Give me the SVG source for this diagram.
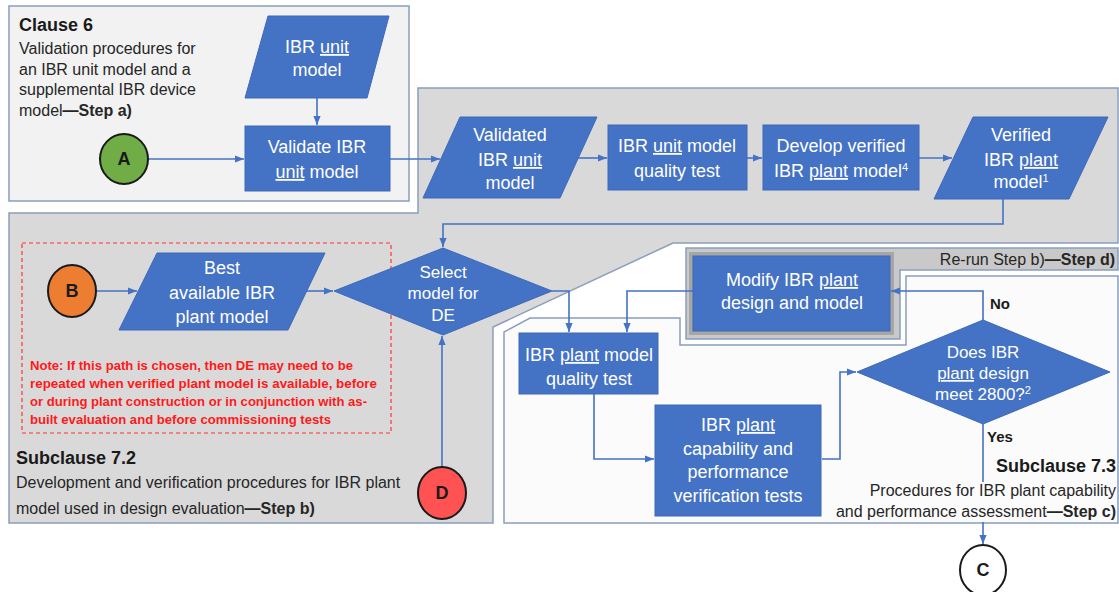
<svg xmlns="http://www.w3.org/2000/svg" width="1119" height="592" viewBox="0 0 1119 592">
<defs>
<marker id="arr" viewBox="0 0 10 10" refX="10" refY="5" markerWidth="9" markerHeight="9" markerUnits="userSpaceOnUse" orient="auto"><path d="M0,1 L10,5 L0,9 z" fill="#4472c4"/></marker>
</defs>
<style>
text{font-family:"Liberation Sans",Arial,sans-serif}
.frame{stroke:#8a9dbd;stroke-width:1.5}
.blue{fill:#4472c4;stroke:#3d69ba;stroke-width:1}
.bt{font-size:18px;fill:#ffffff;text-anchor:middle}
.st{font-size:17px;fill:#ffffff;text-anchor:middle}
.sup{font-size:11px;baseline-shift:super}
.con{fill:none;stroke:#4472c4;stroke-width:1.6}
.conA{fill:none;stroke:#4472c4;stroke-width:1.6;marker-end:url(#arr)}
.u{text-decoration:underline}
.desc{font-size:16px;fill:#262626}
.title{font-size:18px;font-weight:bold;fill:#1a1a1a}
.circ{stroke:#1a1a1a;stroke-width:2}
.ct{font-size:18px;font-weight:bold;fill:#1a1a1a;text-anchor:middle}
.note{font-size:12.5px;font-weight:bold;fill:#ff1a1a}
.lbl{font-size:15px;font-weight:bold;fill:#1a1a1a}
</style>
<rect x="0" y="0" width="1119" height="592" fill="#ffffff"/>

<g id="regions">
  <rect x="9" y="6" width="400" height="195" fill="#f2f2f2" class="frame"/>
  <polygon points="9,213 418,213 418,88 1118,88 1118,243 673,243 493,327 493,523 9,523" fill="#d9d9d9" class="frame"/>
  <polygon points="504,523 504,332 530,318 680,318 680,345 906,345 906,276 1118,276 1118,523" fill="#fbfbfb" class="frame"/>
  <polygon points="686,248 1118,248 1118,270 900,270 900,339 686,339" fill="#c9c9c9" class="frame"/>
  <rect x="689" y="252" width="205" height="83" fill="#a6a6a6"/>
  <rect x="22" y="243" width="369" height="190" fill="none" stroke="#ff3333" stroke-width="1.2" stroke-dasharray="4,3"/>
</g>

<g id="region-texts">
  <text x="19" y="31" class="title">Clause 6</text>
  <text x="19" y="54" class="desc">Validation procedures for</text>
  <text x="19" y="75" class="desc">an IBR unit model and a</text>
  <text x="19" y="95" class="desc">supplemental IBR device</text>
  <text x="19" y="116" class="desc">model<tspan font-weight="bold">—Step a)</tspan></text>

  <text x="16" y="464" class="title">Subclause 7.2</text>
  <text x="16" y="488" class="desc">Development and verification procedures for IBR plant</text>
  <text x="16" y="514" class="desc">model used in design evaluation<tspan font-weight="bold">—Step b)</tspan></text>

  <text x="30" y="370" class="note" textLength="323" lengthAdjust="spacingAndGlyphs">Note: If this path is chosen, then DE may need to be</text>
  <text x="30" y="388" class="note" textLength="347" lengthAdjust="spacingAndGlyphs">repeated when verified plant model is available, before</text>
  <text x="30" y="406" class="note" textLength="337" lengthAdjust="spacingAndGlyphs">or during plant construction or in conjunction with as-</text>
  <text x="30" y="424" class="note" textLength="301" lengthAdjust="spacingAndGlyphs">built evaluation and before commissioning tests</text>

  <text x="1115" y="265" class="desc" font-size="15.5" text-anchor="end">Re-run Step b)<tspan font-weight="bold">—Step d)</tspan></text>

  <text x="1116" y="472" class="title" text-anchor="end">Subclause 7.3</text>
  <text x="1116" y="496" class="desc" font-size="15.5" text-anchor="end">Procedures for IBR plant capability</text>
  <text x="1116" y="517" class="desc" font-size="15.5" text-anchor="end">and performance assessment<tspan font-weight="bold">—Step c)</tspan></text>
</g>

<g id="connectors">
  <path class="conA" d="M317,98 V125"/>
  <path class="conA" d="M148,159 H244"/>
  <path class="conA" d="M390,159 H440"/>
  <path class="conA" d="M578,158 H607"/>
  <path class="conA" d="M747,158 H762"/>
  <path class="conA" d="M919,158 H952"/>
  <path class="conA" d="M1003,199 V224 H443 V247"/>
  <path class="conA" d="M97,291 H137"/>
  <path class="conA" d="M307,291 H333"/>
  <path class="conA" d="M442,467 V336"/>
  <path class="conA" d="M552,291 H569 V332"/>
  <path class="conA" d="M693,291 H627 V332"/>
  <path class="conA" d="M983,320 V291 H891"/>
  <path class="conA" d="M594,394 V459 H654"/>
  <path class="conA" d="M822,459 H840 V372 H856"/>
  <path class="con" d="M983,424 V482"/>
  <path class="conA" d="M983,522 V544"/>
  <text x="990" y="309" class="lbl">No</text>
  <text x="987" y="442" class="lbl">Yes</text>
</g>

<g id="node-unit-model">
  <polygon class="blue" points="268,16 389,16 367,98 245,98"/>
  <text x="317" y="53" class="bt">IBR <tspan class="u">unit</tspan></text>
  <text x="317" y="76" class="bt">model</text>
</g>
<g id="node-validate">
  <rect class="blue" x="245" y="126" width="145" height="65"/>
  <text x="317" y="153" class="bt">Validate IBR</text>
  <text x="317" y="178" class="bt"><tspan class="u">unit</tspan> model</text>
</g>
<g id="node-A">
  <ellipse class="circ" cx="124" cy="159" rx="24" ry="25" fill="#70ad47"/>
  <text x="124" y="165" class="ct">A</text>
</g>
<g id="node-validated">
  <polygon class="blue" points="460,117 597,117 560,198 423,198"/>
  <text x="510" y="141" class="bt">Validated</text>
  <text x="510" y="166" class="bt">IBR <tspan class="u">unit</tspan></text>
  <text x="510" y="189" class="bt">model</text>
</g>
<g id="node-unit-quality">
  <rect class="blue" x="608" y="125" width="139" height="65"/>
  <text x="677" y="152" class="bt">IBR <tspan class="u">unit</tspan> model</text>
  <text x="677" y="177" class="bt">quality test</text>
</g>
<g id="node-develop">
  <rect class="blue" x="763" y="125" width="156" height="65"/>
  <text x="841" y="152" class="bt">Develop verified</text>
  <text x="841" y="177" class="bt">IBR <tspan class="u">plant</tspan> model<tspan class="sup">4</tspan></text>
</g>
<g id="node-verified">
  <polygon class="blue" points="973,117 1108,117 1069,199 934,199"/>
  <text x="1021" y="141" class="bt">Verified</text>
  <text x="1021" y="166" class="bt">IBR <tspan class="u">plant</tspan></text>
  <text x="1021" y="188" class="bt">model<tspan class="sup">1</tspan></text>
</g>
<g id="node-B">
  <ellipse class="circ" cx="72" cy="291" rx="24" ry="26" fill="#ed7d31"/>
  <text x="72" y="297" class="ct">B</text>
</g>
<g id="node-best">
  <polygon class="blue" points="157,253 325,253 288,330 119,330"/>
  <text x="222" y="274" class="bt">Best</text>
  <text x="222" y="299" class="bt">available IBR</text>
  <text x="222" y="323" class="bt">plant model</text>
</g>
<g id="node-select">
  <polygon class="blue" points="443,248 552,291 443,335 334,291"/>
  <text x="443" y="278" class="st">Select</text>
  <text x="443" y="299" class="st">model for</text>
  <text x="443" y="321" class="st">DE</text>
</g>
<g id="node-D">
  <ellipse class="circ" cx="442" cy="493" rx="24" ry="26" fill="#ff5353"/>
  <text x="442" y="499" class="ct">D</text>
</g>
<g id="node-modify">
  <rect class="blue" x="693" y="256" width="197" height="75"/>
  <text x="792" y="286" class="bt">Modify IBR <tspan class="u">plant</tspan></text>
  <text x="792" y="309" class="bt">design and model</text>
</g>
<g id="node-plant-quality">
  <rect class="blue" x="519" y="333" width="139" height="61"/>
  <text x="589" y="361" class="bt">IBR <tspan class="u">plant</tspan> model</text>
  <text x="589" y="385" class="bt">quality test</text>
</g>
<g id="node-capability">
  <rect class="blue" x="655" y="405" width="166" height="111"/>
  <text x="738" y="431" class="bt">IBR <tspan class="u">plant</tspan></text>
  <text x="738" y="455" class="bt">capability and</text>
  <text x="738" y="478" class="bt">performance</text>
  <text x="738" y="502" class="bt">verification tests</text>
</g>
<g id="node-does">
  <polygon class="blue" points="983,320 1110,372 983,424 857,372"/>
  <text x="983" y="358" class="st">Does IBR</text>
  <text x="983" y="379" class="st"><tspan class="u">plant</tspan> design</text>
  <text x="983" y="400" class="st">meet 2800?<tspan class="sup">2</tspan></text>
</g>
<g id="node-C">
  <ellipse class="circ" cx="983" cy="570" rx="23" ry="25" fill="#ffffff"/>
  <text x="983" y="576" class="ct">C</text>
</g>
</svg>
